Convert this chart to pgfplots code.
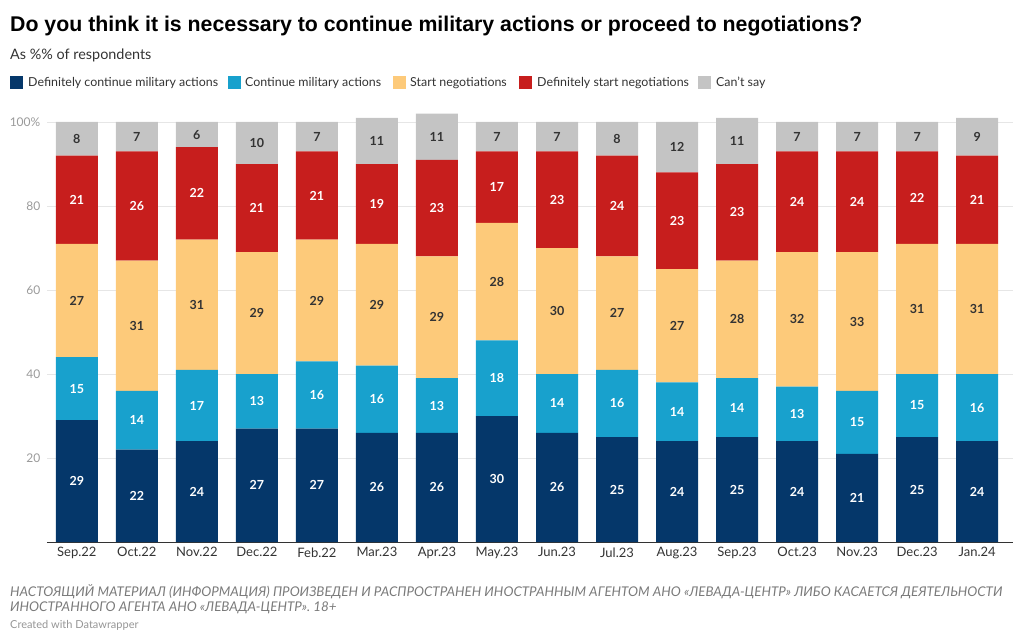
\documentclass[border=0pt]{standalone}
\usepackage{pgfplots}
\pgfplotsset{compat=1.18}
\usepackage{pgfplotstable}
\usepackage{fontspec}
\setmainfont{Lato}
\newfontfamily\titlefont{Liberation Sans}
\definecolor{cNavy}{HTML}{05376A}
\definecolor{cBlue}{HTML}{18A1CD}
\definecolor{cOrange}{HTML}{FDCA7A}
\definecolor{cRed}{HTML}{C71E1D}
\definecolor{cGray}{HTML}{C4C4C4}
\definecolor{cText}{HTML}{333333}
\definecolor{cTick}{HTML}{9A9A9A}
\definecolor{cFoot}{HTML}{7A7A7A}
\definecolor{cGrid}{HTML}{E6E6E6}
\pgfplotstableread{
x dc c sn ds cs
0 29 15 27 21 8
1 22 14 31 26 7
2 24 17 31 22 6
3 27 13 29 21 10
4 27 16 29 21 7
5 26 16 29 19 11
6 26 13 29 23 11
7 30 18 28 17 7
8 26 14 30 23 7
9 25 16 27 24 8
10 24 14 27 23 12
11 25 14 28 23 11
12 24 13 32 24 7
13 21 15 33 24 7
14 25 15 31 22 7
15 24 16 31 21 9
}\data
\begin{document}
\begin{tikzpicture}[x=1pt,y=1pt]
\useasboundingbox (0,0) rectangle (1024,641);
\node[anchor=base west, inner sep=0, font=\titlefont\fontsize{21.3}{25}\selectfont\bfseries] at (10,609) {Do you think it is necessary to continue military actions or proceed to negotiations?};
\node[anchor=base west, inner sep=0, text=cText, font=\fontsize{14.4}{17}\selectfont] at (10,581) {As \%\% of respondents};
% legend
\begin{scope}[font=\fontsize{12.4}{15}\selectfont, text=cText]
\fill[cNavy] (10,552) rectangle (23,565);
\node[anchor=base west, inner sep=0] at (28,554) {Definitely continue military actions};
\fill[cBlue] (228,552) rectangle (241,565);
\node[anchor=base west, inner sep=0] at (245,554) {Continue military actions};
\fill[cOrange] (393,552) rectangle (406,565);
\node[anchor=base west, inner sep=0] at (410,554) {Start negotiations};
\fill[cRed] (519,552) rectangle (532,565);
\node[anchor=base west, inner sep=0] at (537,554) {Definitely start negotiations};
\fill[cGray] (698,552) rectangle (711,565);
\node[anchor=base west, inner sep=0] at (716,554) {Can’t say};
\end{scope}
\begin{axis}[
  at={(46.8pt,99pt)}, anchor=south west, scale only axis,
  width=966.4pt, height=428.4pt,
  xmin=-0.5, xmax=15.6, ymin=0, ymax=102,
  ybar stacked, bar width=42pt,
  axis line style={draw=none},
  major tick length=0pt,
  /pgf/number format/assume math mode=true,
  ytick={20,40,60,80,100},
  yticklabels={20,40,60,80,100\%},
  yticklabel style={font=\fontsize{12}{14}\selectfont, text=cTick, anchor=east, xshift=-3pt},
  ymajorgrids, grid style={cGrid, line width=0.8pt},
  extra y ticks={0}, extra y tick labels={},
  extra y tick style={grid style={draw=cText, line width=1pt}},
  xtick={0,...,15},
  xticklabels={Sep.22,Oct.22,Nov.22,Dec.22,Feb.22,Mar.23,Apr.23,May.23,Jun.23,Jul.23,Aug.23,Sep.23,Oct.23,Nov.23,Dec.23,Jan.24},
  xticklabel style={font=\fontsize{13}{15}\selectfont, text=cText, yshift=-2pt},
  visualization depends on=rawy \as \rawy,
  nodes near coords={\pgfmathprintnumber[fixed,precision=0]{\rawy}},
  every node near coord/.append style={anchor=center, font=\fontsize{12.5}{14}\selectfont\bfseries},
]
\addplot[fill=cNavy, draw=none, every node near coord/.append style={text=white}] table[x=x,y=dc] {\data};
\addplot[fill=cBlue, draw=none, every node near coord/.append style={text=white}] table[x=x,y=c] {\data};
\addplot[fill=cOrange, draw=none, every node near coord/.append style={text=cText}] table[x=x,y=sn] {\data};
\addplot[fill=cRed, draw=none, every node near coord/.append style={text=white}] table[x=x,y=ds] {\data};
\addplot[fill=cGray, draw=none, every node near coord/.append style={text=cText}] table[x=x,y=cs] {\data};
\end{axis}
\begin{scope}[font=\fontsize{13.4}{15}\selectfont\itshape, text=cFoot]
\node[anchor=base west, inner sep=0] at (10,45) {НАСТОЯЩИЙ МАТЕРИАЛ (ИНФОРМАЦИЯ) ПРОИЗВЕДЕН И РАСПРОСТРАНЕН ИНОСТРАННЫМ АГЕНТОМ АНО «ЛЕВАДА-ЦЕНТР» ЛИБО КАСАЕТСЯ ДЕЯТЕЛЬНОСТИ};
\node[anchor=base west, inner sep=0] at (10,30) {ИНОСТРАННОГО АГЕНТА АНО «ЛЕВАДА-ЦЕНТР». 18+};
\end{scope}
\node[anchor=base west, inner sep=0, text=cFoot!80, font=\fontsize{11}{13}\selectfont] at (10,13) {Created with Datawrapper};
\end{tikzpicture}
\end{document}
